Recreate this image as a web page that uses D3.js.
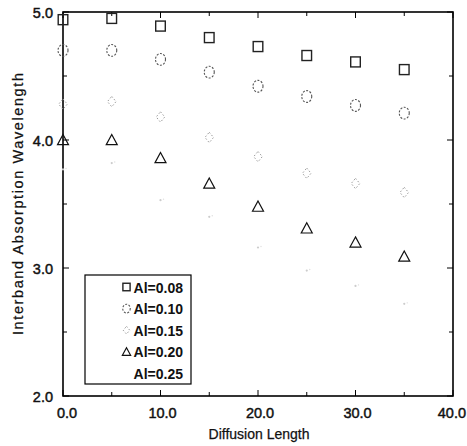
<!DOCTYPE html>
<html><head><meta charset="utf-8">
<script src="https://cdn.jsdelivr.net/npm/d3@7"></script>
<style>
body{margin:0;background:#fff;}
text{font-family:"Liberation Sans",Arial,sans-serif;fill:#111;}
</style></head>
<body><svg id="c" width="467" height="446"></svg>
<script>
const xValues = [0, 5, 10, 15, 20, 25, 30, 35];
const al008 = [4.94, 4.95, 4.89, 4.80, 4.73, 4.66, 4.61, 4.55];
const al010 = [4.70, 4.70, 4.63, 4.53, 4.42, 4.34, 4.27, 4.21];
const al015 = [4.28, 4.30, 4.18, 4.02, 3.87, 3.74, 3.66, 3.59];
const al020 = [4.00, 4.00, 3.86, 3.66, 3.48, 3.31, 3.20, 3.09];
const al025 = [3.77, 3.82, 3.53, 3.40, 3.16, 2.98, 2.86, 2.72];
const seriesNames = ["Al=0.08", "Al=0.10", "Al=0.15", "Al=0.20", "Al=0.25"];
const xTickLabels = ["0.0", "10.0", "20.0", "30.0", "40.0"];
const yTickLabels = ["2.0", "3.0", "4.0", "5.0"];

const series = [
  {name: seriesNames[0], vals: al008, sym: "square"},
  {name: seriesNames[1], vals: al010, sym: "circle"},
  {name: seriesNames[2], vals: al015, sym: "diamond"},
  {name: seriesNames[3], vals: al020, sym: "triangle"},
  {name: seriesNames[4], vals: al025, sym: "dot"}
];

const svg = d3.select("#c");
const L = 63, R = 453, T = 12, B = 396;
const x = d3.scaleLinear().domain([0, 40]).range([L, R]);
const y = d3.scaleLinear().domain([2, 5]).range([B, T]);

// frame
svg.append("rect").attr("x", L).attr("y", T).attr("width", R - L).attr("height", B - T)
  .attr("fill", "none").attr("stroke", "#000").attr("stroke-width", 1.6);

// ticks
const xt = d3.range(0, 41, 5), yt = d3.range(2, 5.01, 0.5);
xt.forEach(v => {
  const len = v % 10 === 0 ? 6 : 4;
  svg.append("line").attr("x1", x(v)).attr("x2", x(v)).attr("y1", B).attr("y2", B - len).attr("stroke", "#000");
  svg.append("line").attr("x1", x(v)).attr("x2", x(v)).attr("y1", T).attr("y2", T + len).attr("stroke", "#000");
});
yt.forEach(v => {
  const len = Math.abs(v - Math.round(v)) < 1e-6 ? 6 : 4;
  svg.append("line").attr("y1", y(v)).attr("y2", y(v)).attr("x1", L).attr("x2", L + len).attr("stroke", "#000");
  svg.append("line").attr("y1", y(v)).attr("y2", y(v)).attr("x1", R).attr("x2", R - len).attr("stroke", "#000");
});

// tick labels
xTickLabels.forEach((t, i) => {
  const last = i === xTickLabels.length - 1;
  svg.append("text").attr("x", last ? 466 : x(+t) + (i === 0 ? 4 : 2)).attr("y", 418)
    .attr("text-anchor", last ? "end" : "middle").attr("font-size", 14.5)
    .attr("stroke", "#111").attr("stroke-width", 0.45).text(t);
});
yTickLabels.forEach(t => {
  svg.append("text").attr("x", 53).attr("y", y(+t) + 6)
    .attr("text-anchor", "end").attr("font-size", 14.5).attr("stroke", "#111").attr("stroke-width", 0.45).text(t);
});

// axis titles
svg.append("text").attr("x", 259).attr("y", 439).attr("text-anchor", "middle")
  .attr("font-size", 14).attr("stroke", "#111").attr("stroke-width", 0.25).text("Diffusion Length");
svg.append("text").attr("transform", "translate(23,204) rotate(-90)").attr("text-anchor", "middle")
  .attr("font-size", 14.5).attr("stroke", "#111").attr("stroke-width", 0.25)
  .attr("textLength", 262).attr("lengthAdjust", "spacing")
  .text("Interband Absorption Wavelength");

function drawSym(g, sym, cx, cy, scale) {
  const s = scale || 1;
  if (sym === "square") {
    g.append("rect").attr("x", cx - 4.8 * s).attr("y", cy - 5 * s).attr("width", 9.6 * s).attr("height", 10 * s)
      .attr("fill", "none").attr("stroke", "#222").attr("stroke-width", 1.4);
  } else if (sym === "circle") {
    g.append("ellipse").attr("cx", cx).attr("cy", cy).attr("rx", 5 * s).attr("ry", 5.9 * s)
      .attr("fill", "none").attr("stroke", "#555").attr("stroke-width", 1.1).attr("stroke-dasharray", "2,1.5");
  } else if (sym === "diamond") {
    const rx = 4.3 * s, ry = 5.2 * s;
    g.append("path").attr("d", `M${cx},${cy - ry}L${cx + rx},${cy}L${cx},${cy + ry}L${cx - rx},${cy}Z`)
      .attr("fill", "none").attr("stroke", "#999").attr("stroke-width", 1).attr("stroke-dasharray", "1.5,2");
  } else if (sym === "triangle") {
    const r = 5.5 * s;
    g.append("path").attr("d", `M${cx},${cy - r}L${cx + r},${cy + r * 0.85}L${cx - r},${cy + r * 0.85}Z`)
      .attr("fill", "none").attr("stroke", "#111").attr("stroke-width", 1.2);
  } else if (sym === "dot") {
    g.append("circle").attr("cx", cx).attr("cy", cy).attr("r", 1.1).attr("fill", "#ccc");
    g.append("circle").attr("cx", cx + 3).attr("cy", cy - 1).attr("r", 0.7).attr("fill", "#ddd");
  }
}

const gp = svg.append("g");
series.forEach(s => {
  s.vals.forEach((v, i) => drawSym(gp, s.sym, x(xValues[i]), y(v), 1));
});

// legend
const lg = svg.append("g");
lg.append("rect").attr("x", 85).attr("y", 275).attr("width", 106).attr("height", 109)
  .attr("fill", "#fff").attr("stroke", "#000").attr("stroke-width", 1.2);
series.forEach((s, i) => {
  const yy = 287 + i * 21.6;
  lg.append("text").attr("x", 183).attr("y", yy + 5.5).attr("text-anchor", "end")
    .attr("font-size", 14).attr("font-weight", "bold").text(s.name);
  if (s.sym !== "dot") drawSym(lg, s.sym, 126.5, yy, 0.75);
});
</script></body></html>
